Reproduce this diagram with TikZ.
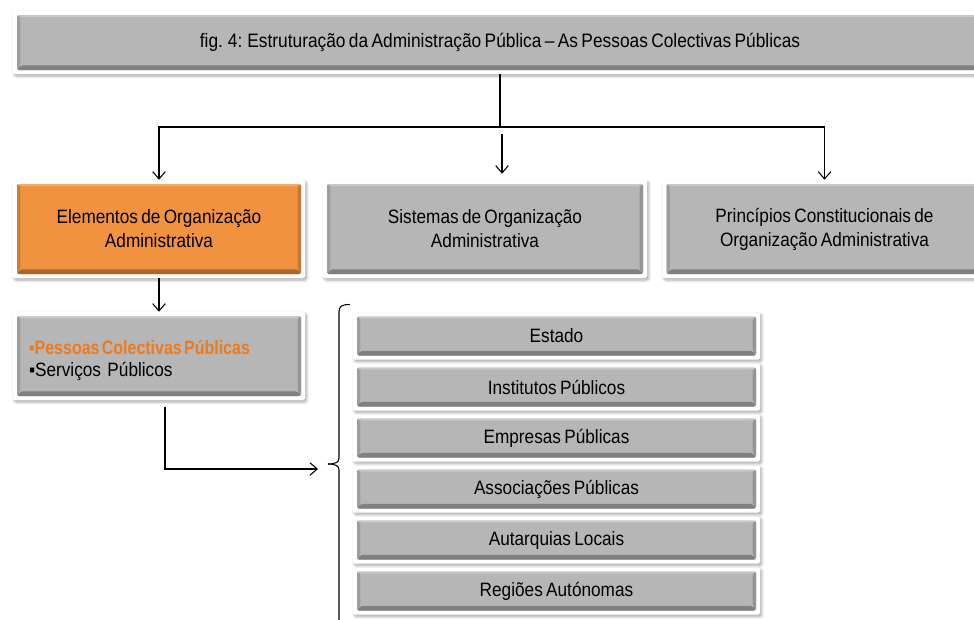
\documentclass[tikz,border=0pt]{standalone}
\usepackage{fontspec}
\setmainfont{Liberation Sans}[FakeStretch=0.89,WordSpace=0.7]
\usetikzlibrary{arrows.meta,shadows.blur}
\definecolor{grigioPannello}{HTML}{B6B6B6}
\definecolor{arancioPannello}{HTML}{F0923F}
\definecolor{arancioTesto}{HTML}{EC7A1F}
% Riquadro interno con bordi in rilievo, dentro la cornice bianca del nodo.
\newcommand{\smussatura}[1]{%
	\coordinate (bsw) at ([xshift=3pt,yshift=3pt]path picture bounding box.south west);
	\coordinate (bne) at ([xshift=-3pt,yshift=-3pt]path picture bounding box.north east);
	\coordinate (bse) at (bsw -| bne);
	\coordinate (bnw) at (bsw |- bne);
	\fill[#1] (bsw) rectangle (bne);
	% Sotto e ai lati piu scuro, in alto piu chiaro.
	\fill[#1!70!black] (bsw) -- (bse) -- ([xshift=-2.5pt,yshift=3.5pt]bse) -- ([xshift=2.5pt,yshift=3.5pt]bsw) -- cycle;
	\fill[#1!86!black] (bsw) -- (bnw) -- ([xshift=2.5pt,yshift=-1.5pt]bnw) -- ([xshift=2.5pt,yshift=3.5pt]bsw) -- cycle;
	\fill[#1!82!black] (bse) -- (bne) -- ([xshift=-2.5pt,yshift=-1.5pt]bne) -- ([xshift=-2.5pt,yshift=3.5pt]bse) -- cycle;
	\fill[#1!75!white] (bnw) -- (bne) -- ([xshift=-2.5pt,yshift=-1.5pt]bne) -- ([xshift=2.5pt,yshift=-1.5pt]bnw) -- cycle;
}

\begin{document}
\begin{tikzpicture}[x=0.75pt,y=-0.75pt,
  pannello/.style={fill=white,rounded corners=1.5pt,inner sep=0pt,align=center,
    blur shadow={shadow xshift=1.2pt,shadow yshift=-1.5pt,shadow blur steps=6,shadow opacity=35},
    font=\fontsize{14.5}{18}\selectfont,path picture={\smussatura{#1}}},
  pannello/.default=grigioPannello,
  freccia/.style={-{Straight Barb[length=5.5pt,width=9.5pt]},line width=0.8pt}]
  \useasboundingbox (0,0) rectangle (974,619);
  % Titolo e i tre rami principali.
  \node[pannello,minimum width=730.5pt,minimum height=47.25pt,
    font=\fontsize{14.6}{17}\selectfont] (titolo) at (500,42.5)
    {fig. 4: Estruturação da Administração Pública -- As Pessoas Colectivas Públicas};
  \node[pannello=arancioPannello,minimum width=219pt,minimum height=73.5pt] (elementi) at (159,229)
    {Elementos de Organização\\Administrativa};
  \node[pannello,minimum width=243pt,minimum height=73.5pt] (sistemi) at (485,229)
    {Sistemas de Organização\\Administrativa};
  \node[pannello,minimum width=243pt,minimum height=73.5pt] (principi) at (824.5,229)
    {Princípios Constitucionais de\\Organização Administrativa};
  \node[pannello,text width=195pt,inner xsep=12pt,minimum height=66pt,align=left,
    font=\fontsize{14.5}{16.5}\selectfont] (pessoe) at (159,356)
    {\rule{0pt}{18pt}\textcolor{arancioTesto}{\bfseries\spaceskip=1.8pt\relax
      \scalebox{0.93}[1]{▪Pessoas Colectivas Públicas}}\\▪Serviços Públicos};
  % Colonna delle pessoas colectivas, passo di 51 px.
  \foreach \ente [count=\i] in {Estado,Institutos Públicos,Empresas Públicas,
    Associações Públicas,Autarquias Locais,Regiões Autónomas}{
    \node[pannello,minimum width=305.25pt,minimum height=35.25pt] (ente\i) at (556.5,{285+51*\i}) {\ente};
  }
  % Collegamenti.
  \coordinate (snodo) at (500,127);
  \coordinate (snodoB) at ([xshift=1.5pt]snodo);
  \draw[line width=0.8pt] (titolo) -- (snodo);
  \draw[freccia] (snodo) -| (elementi);
  \draw[freccia] (snodo) -| (principi);
  \draw[freccia,shorten <=5pt,shorten >=4.5pt] (snodoB) -- (snodoB |- sistemi.north);
  \draw[freccia] (elementi) -- (pessoe);
  \coordinate (punta) at (318,469);
  \draw[freccia,shorten <=5pt] ([xshift=4.5pt]pessoe.south) |- (punta);
  % Graffa alta, tagliata dal bordo inferiore.
  \draw[line width=0.8pt] (350,304.5) .. controls (342,304.5) and (339,306) .. (339,312)
    -- (339,458) .. controls (339,462) and (336,464) .. (328,464);
  \draw[line width=0.8pt] (328,464) .. controls (336,464) and (339,466) .. (339,470) -- (339,625);
\end{tikzpicture}
\end{document}
